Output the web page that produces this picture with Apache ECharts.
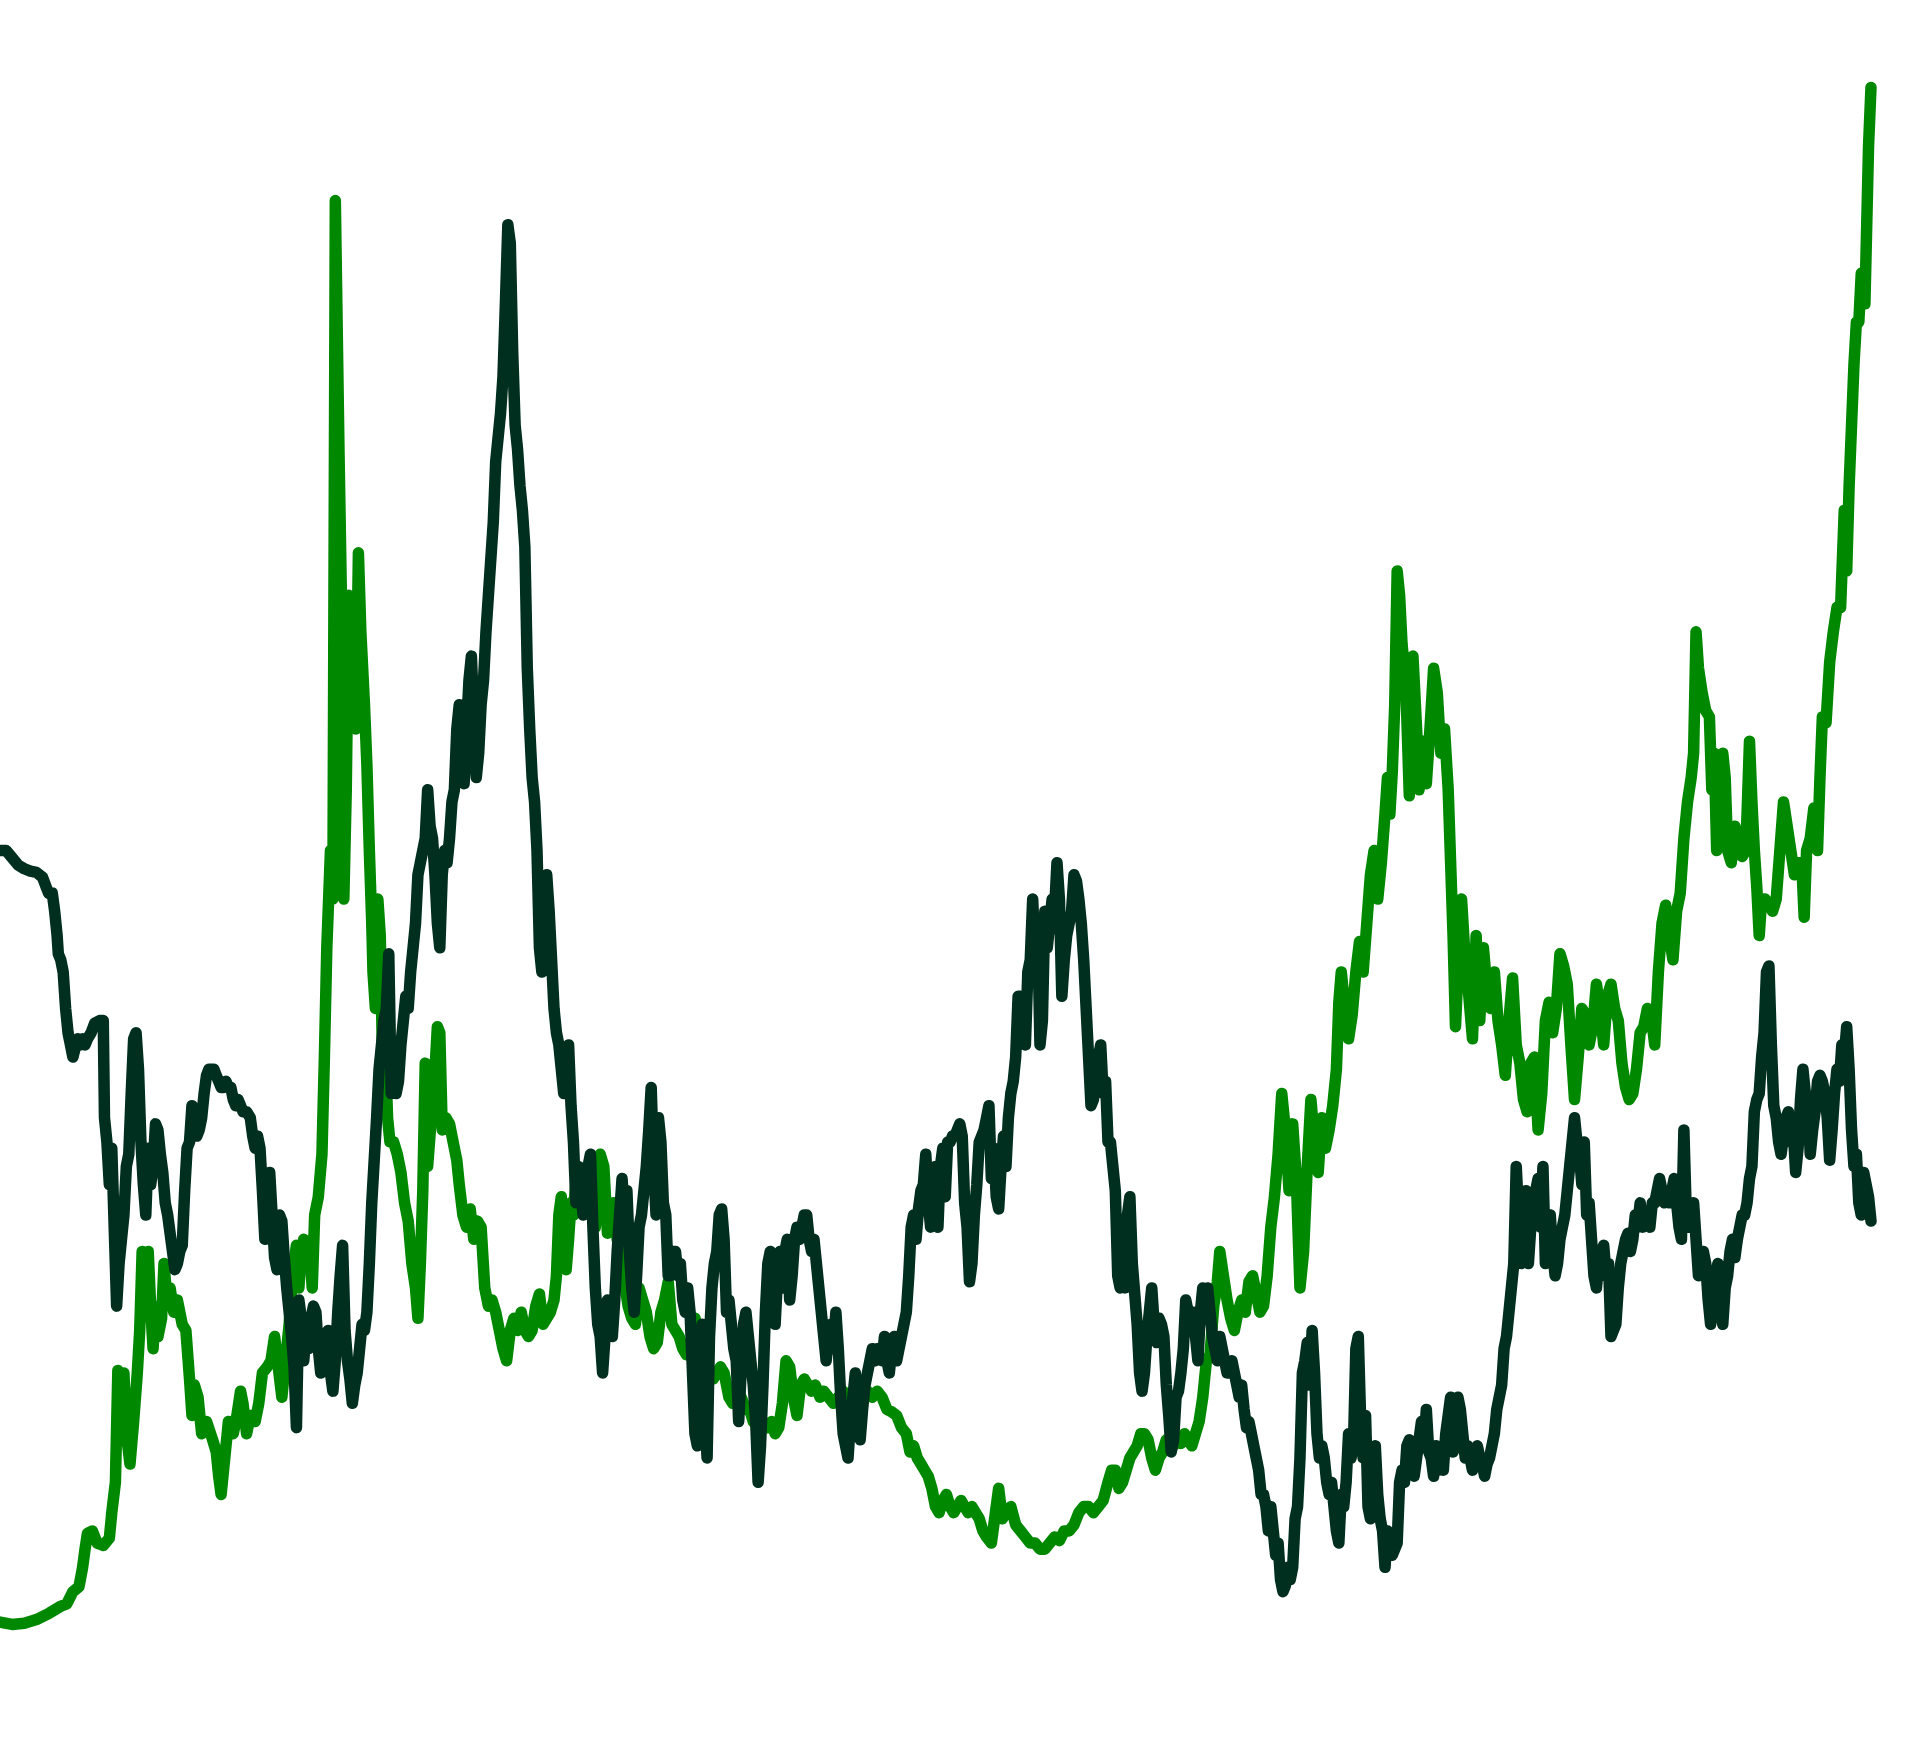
<!DOCTYPE html>
<html>
<head>
<meta charset="utf-8">
<script src="https://cdn.jsdelivr.net/npm/echarts@6/dist/echarts.min.js"></script>
<style>html,body{margin:0;padding:0;background:#fff}#c{width:1905px;height:1762px}</style>
</head>
<body>
<div id="c"></div>
<script>
// [period, value] pairs
const greenSeries = [[0,6.5],[10,6.3],[20,6.4],[30,6.7],[40,7.2],[50,7.8],[55,8.0],[60,9.0],[65,9.4],[68,11.0],[70,12.5],[72,13.8],[76,14.0],[80,13.0],[85,12.8],[90,13.4],[92,15.5],[95,18.0],[97,27.2],[99,26.5],[100,24.0],[102,27.0],[104,22.0],[107,19.5],[110,23.0],[113,27.0],[115,30.5],[117,37.0],[120,36.0],[122,37.0],[124,32.5],[126,29.0],[128,32.5],[130,30.0],[133,31.5],[135,36.0],[137,33.5],[140,34.0],[143,32.0],[146,33.0],[150,31.0],[153,30.5],[156,26.5],[158,23.5],[160,26.0],[163,25.0],[166,22.0],[170,23.0],[175,21.5],[178,20.5],[180,18.5],[182,17.0],[185,20.0],[188,23.0],[192,22.0],[195,23.5],[198,25.5],[200,24.5],[203,22.0],[206,23.5],[210,23.0],[213,24.5],[216,27.0],[220,27.5],[223,28.0],[226,30.0],[229,27.5],[232,25.0],[235,28.0],[238,31.0],[240,34.0],[242,36.0],[244,37.5],[246,34.0],[248,37.0],[250,38.0],[252,36.0],[255,37.0],[257,34.0],[259,40.0],[262,41.5],[265,45.0],[267,53.0],[269,62.0],[272,70.0],[274,66.0],[276,123.5],[277,123.5],[279,103.0],[281,91.0],[283,66.0],[285,75.0],[287,91.0],[289,84.0],[291,88.0],[293,80.0],[295,94.5],[297,88.0],[300,82.0],[302,77.0],[304,70.0],[306,64.0],[307,60.0],[309,57.0],[311,66.0],[313,63.0],[315,52.0],[317,54.0],[319,48.0],[321,46.0],[324,46.0],[327,45.0],[330,43.5],[333,41.0],[336,39.5],[339,36.0],[342,34.0],[344,31.5],[346,36.0],[348,42.0],[350,52.5],[352,44.0],[355,48.0],[357,50.0],[360,55.5],[362,55.0],[364,47.0],[367,48.0],[370,47.5],[373,46.0],[376,44.5],[378,42.5],[381,40.0],[384,39.0],[387,40.5],[390,38.0],[393,39.5],[396,39.0],[399,34.0],[402,32.5],[405,33.0],[408,32.0],[411,30.5],[414,29.0],[417,28.0],[420,30.5],[423,31.5],[426,30.5],[429,32.0],[432,30.5],[435,30.0],[438,30.5],[441,32.5],[444,33.5],[447,31.0],[450,31.5],[453,32.0],[456,33.0],[458,35.0],[460,40.0],[462,41.5],[464,36.0],[466,35.5],[468,38.0],[470,41.0],[472,40.0],[475,44.0],[478,41.5],[481,43.0],[484,44.0],[487,41.5],[490,39.0],[494,45.0],[497,44.0],[500,38.5],[502,40.0],[505,41.0],[508,38.0],[511,37.0],[514,34.5],[517,32.5],[520,31.5],[523,31.0],[526,34.0],[529,33.0],[532,32.0],[535,30.0],[538,29.0],[541,29.5],[544,32.0],[547,33.0],[550,34.5],[553,31.0],[556,30.5],[559,30.0],[562,29.0],[565,28.5],[568,29.0],[572,31.5],[575,30.5],[578,28.5],[580,28.0],[583,27.5],[587,26.5],[590,27.0],[593,27.5],[596,27.0],[600,25.0],[603,24.5],[606,25.0],[610,25.0],[614,24.0],[617,24.0],[620,23.0],[624,23.0],[628,22.5],[632,22.5],[635,23.0],[638,22.0],[641,22.5],[644,24.5],[647,28.0],[650,27.5],[653,25.0],[656,23.5],[659,26.0],[662,26.5],[665,26.0],[668,25.5],[671,26.0],[675,25.0],[678,25.5],[682,25.0],[686,24.5],[690,25.0],[694,25.5],[698,25.0],[702,24.5],[706,25.0],[710,25.0],[714,25.5],[718,25.0],[722,25.5],[726,25.0],[730,24.0],[734,23.8],[738,23.5],[742,22.5],[746,22.0],[749,20.5],[752,21.0],[755,20.0],[758,19.5],[761,19.0],[764,18.5],[767,17.5],[770,16.0],[773,15.5],[776,16.5],[779,17.0],[782,16.0],[785,15.5],[788,16.0],[791,16.5],[794,16.0],[797,15.5],[800,16.0],[803,15.5],[806,15.0],[809,14.0],[812,13.5],[816,13.0],[820,16.0],[822,17.5],[825,15.0],[828,15.5],[832,16.0],[836,14.5],[840,14.0],[844,13.5],[848,13.0],[852,13.0],[856,12.5],[860,12.5],[864,13.0],[868,13.5],[872,13.2],[876,14.0],[880,14.0],[884,14.5],[888,15.5],[892,16.0],[896,16.0],[900,15.5],[904,16.0],[908,16.5],[912,18.0],[915,19.0],[918,19.0],[921,17.5],[924,18.0],[927,19.0],[930,20.0],[933,20.5],[936,21.0],[939,22.0],[942,22.0],[945,21.5],[948,20.0],[951,19.0],[954,20.0],[957,20.5],[960,21.5],[963,21.0],[966,21.0],[969,21.5],[972,21.2],[975,22.0],[978,21.5],[981,21.0],[984,22.0],[987,23.0],[990,25.0],[993,28.0],[996,28.5],[999,32.5],[1002,34.5],[1004,37.0],[1007,35.0],[1010,33.0],[1013,31.5],[1016,30.5],[1019,32.0],[1022,33.0],[1025,32.0],[1028,34.5],[1031,35.0],[1034,33.5],[1037,32.0],[1040,32.5],[1043,35.0],[1046,39.0],[1049,41.5],[1052,45.0],[1055,50.0],[1058,47.0],[1061,42.0],[1064,47.5],[1067,43.0],[1070,34.0],[1073,37.0],[1076,44.0],[1079,49.5],[1082,46.0],[1085,43.5],[1088,48.0],[1091,45.5],[1094,47.0],[1097,49.0],[1100,52.0],[1102,57.5],[1104,60.0],[1107,57.0],[1110,54.5],[1113,56.5],[1116,60.0],[1119,62.5],[1122,60.0],[1125,64.0],[1128,68.0],[1131,70.0],[1134,66.0],[1137,69.0],[1140,73.0],[1142,76.0],[1144,73.0],[1146,76.5],[1148,82.0],[1150,93.0],[1152,91.0],[1154,87.0],[1157,84.0],[1160,74.5],[1163,86.0],[1166,80.0],[1168,75.0],[1171,79.0],[1174,75.5],[1177,80.0],[1180,85.0],[1183,83.0],[1186,78.0],[1189,80.0],[1192,75.0],[1194,69.0],[1196,63.0],[1198,55.5],[1200,60.0],[1203,66.0],[1206,61.0],[1209,58.0],[1212,54.5],[1215,63.0],[1218,56.0],[1221,62.0],[1224,58.5],[1227,57.0],[1230,60.0],[1233,56.0],[1236,54.0],[1239,51.5],[1242,56.0],[1245,59.5],[1248,54.0],[1251,52.5],[1254,49.5],[1257,48.5],[1260,52.5],[1263,53.0],[1266,47.0],[1269,50.0],[1272,56.0],[1275,57.5],[1278,55.0],[1281,57.0],[1284,61.5],[1287,60.5],[1290,59.0],[1293,54.0],[1296,49.5],[1299,53.0],[1302,57.0],[1305,56.5],[1308,54.0],[1311,55.5],[1314,59.0],[1317,57.0],[1320,54.0],[1323,58.0],[1326,59.0],[1329,57.0],[1332,56.0],[1335,52.5],[1338,50.5],[1341,49.5],[1344,50.0],[1347,52.0],[1350,55.0],[1353,55.5],[1356,57.0],[1359,56.5],[1362,54.0],[1365,60.0],[1368,64.0],[1371,65.5],[1374,63.0],[1377,61.0],[1380,65.0],[1383,66.5],[1386,71.0],[1389,74.0],[1392,76.0],[1394,78.0],[1396,88.0],[1398,85.0],[1401,83.0],[1404,81.5],[1407,81.0],[1409,75.0],[1411,78.0],[1413,70.0],[1416,73.0],[1418,78.0],[1420,76.0],[1422,70.0],[1425,69.0],[1428,72.0],[1431,71.0],[1434,69.5],[1437,70.0],[1440,79.0],[1442,74.0],[1444,70.0],[1446,67.0],[1448,63.0],[1450,66.0],[1453,66.0],[1456,65.5],[1459,65.0],[1462,66.0],[1465,70.0],[1468,74.0],[1471,72.0],[1474,70.0],[1477,68.0],[1480,69.0],[1483,69.0],[1485,64.5],[1487,70.0],[1490,71.0],[1493,73.5],[1496,70.0],[1498,76.0],[1500,81.0],[1503,80.5],[1506,85.5],[1509,88.0],[1512,90.0],[1515,90.0],[1518,98.0],[1520,93.0],[1522,100.0],[1524,105.0],[1526,110.0],[1528,113.5],[1530,113.5],[1532,117.5],[1535,115.0],[1538,128.0],[1540,132.8]];

const darkSeries = [[0,70],[5,70],[10,69.4],[15,68.8],[20,68.5],[25,68.3],[30,68.2],[35,67.8],[38,67],[40,66.5],[43,66.5],[45,65],[47,63],[48,61.5],[50,61],[52,60],[54,57],[56,55],[58,54],[60,53],[62,53.8],[64,54.5],[66,54],[68,54.5],[70,54],[72,54.5],[75,55],[78,55.8],[82,56],[85,56],[86,48],[88,46],[90,42.5],[92,45.5],[94,39],[96,32.5],[98,36],[100,38],[102,40],[104,44],[106,45],[108,50],[110,54.5],[112,55],[114,52],[116,46],[118,42.5],[120,40],[122,45.5],[124,42.5],[126,44],[128,47.5],[130,47],[132,45],[134,43.5],[136,41],[138,40],[140,38.5],[142,37],[144,35.5],[146,36],[148,37],[150,37.5],[152,42],[154,45.5],[156,46],[158,49],[160,46.5],[162,46.5],[164,47],[166,48],[168,50],[170,51.5],[172,52],[174,52],[176,52],[178,51.5],[180,51],[182,50.5],[184,50.5],[186,51],[188,50.5],[190,50.5],[192,49.5],[194,49],[196,49.5],[198,49],[200,48.5],[203,48.5],[206,48],[208,46.5],[210,45.5],[212,46.5],[214,45.5],[216,42],[218,38],[220,41],[222,43.5],[224,40],[226,36.5],[228,35.5],[230,40],[232,39.5],[234,36.5],[236,34],[238,32],[240,30],[242,27.5],[244,22.5],[246,33],[248,31.5],[250,28],[252,30.5],[254,29],[256,31.5],[258,32.5],[260,32],[262,29],[264,27],[266,28.5],[268,30],[270,30.5],[272,27],[274,25.5],[276,28],[278,32],[280,35],[282,37.5],[284,30.5],[286,28],[288,26.5],[290,24.5],[292,26],[294,27],[296,29],[298,31],[300,30.5],[302,32],[304,36],[306,41],[308,44.5],[310,48],[312,52],[314,54],[316,56],[318,57],[320,61.5],[322,50],[324,51],[326,50],[328,51],[330,54],[332,56],[334,58],[336,57],[338,60],[340,62],[342,64],[344,68],[346,69],[348,70],[350,71],[352,75],[354,72],[356,71],[358,68],[360,64],[362,62],[364,68],[366,70],[368,69],[370,71],[372,74],[374,75],[376,80],[378,82],[380,77],[382,75.5],[384,80],[386,84],[388,86],[390,81],[392,76],[394,78],[396,82],[398,84],[400,88],[402,91],[404,94],[406,97],[408,102],[410,104],[412,106],[414,109],[416,115],[418,121.5],[420,120],[422,111],[424,105],[426,103],[428,100],[430,98],[432,95],[434,85],[436,80],[438,76],[440,74],[442,70],[444,62],[446,60],[448,65],[450,68],[452,65],[454,61],[456,57],[458,55],[460,54],[462,52],[464,50],[466,52.5],[468,54],[470,49],[472,46],[474,41],[476,44],[478,42],[480,40],[482,41.5],[484,44],[486,45],[488,39],[490,34],[492,31],[494,30],[496,27],[498,30],[500,33],[502,31],[504,30],[506,33],[508,37],[510,40],[512,43],[514,40],[516,42],[518,37],[520,34],[522,32],[524,35],[526,39],[528,40],[530,42],[532,44],[534,47],[536,50.5],[538,44],[540,40],[542,48],[544,46],[546,41],[548,40],[550,35],[552,35],[554,37],[556,37],[558,35],[560,36],[562,33],[564,32],[566,34],[568,32],[570,27],[572,22],[574,21],[576,26],[578,31],[580,24],[582,20],[584,30],[586,34],[588,36],[590,37],[592,40],[594,40.5],[596,38],[598,32],[600,33],[602,31],[604,29],[606,28],[608,23],[610,27],[612,31],[614,32],[616,30],[618,28],[620,26],[622,23],[624,18],[626,21],[628,26],[630,32],[632,36],[634,37],[636,34],[638,31],[640,35],[642,37],[644,34],[646,37],[648,38],[650,33],[652,35],[654,38],[656,39],[658,38],[660,39],[662,40],[664,40],[666,38],[668,37],[670,38],[672,36],[674,34],[676,32],[678,30],[680,28],[682,30],[684,31],[686,29],[688,32],[690,29],[692,25],[694,22],[696,21],[698,20],[700,23],[702,25],[704,27],[706,24],[708,21.5],[710,24],[712,26],[714,27],[716,28],[718,29],[720,28],[722,29],[724,28.5],[726,28],[728,30],[730,28],[732,27],[734,29],[736,30],[738,28],[740,29],[742,30],[744,31],[746,32],[748,35],[750,39],[752,40],[754,38],[756,40.5],[758,42],[760,42.5],[762,45],[764,41],[766,39],[768,42],[770,44],[772,39],[774,44],[776,45.5],[778,41.5],[780,46],[782,46],[784,46.5],[786,46.5],[788,47],[790,47.5],[792,46.5],[794,41],[796,39],[798,34.5],[800,36],[802,40],[804,42.5],[806,46],[808,46.5],[810,47],[812,48],[814,49],[816,43],[818,45.5],[820,41.5],[822,40.5],[824,44],[826,46.5],[828,44],[830,48],[832,50],[834,51],[836,53],[838,58],[840,58],[842,55],[844,54],[846,60],[848,61],[850,66],[852,61],[854,64],[856,54],[858,56],[860,65],[862,62],[864,64],[866,66],[868,65],[870,69],[872,66],[874,58],[876,61],[878,63],[880,64],[882,65],[884,68],[886,67.5],[888,66],[890,64],[892,61],[894,57],[896,53],[898,49],[900,49.5],[902,51],[904,53],[906,54],[908,50],[910,51],[912,46],[914,46],[916,44],[918,42],[920,35],[922,34],[924,36],[926,34],[928,40],[930,41.5],[932,36],[934,33.5],[936,31],[938,27],[940,25.5],[942,27],[944,30],[946,32],[948,34],[950,31],[952,29.5],[954,31.5],[956,31],[958,30],[960,26],[962,23.5],[964,20.5],[966,21.5],[968,25],[970,25.5],[972,27],[974,29],[976,33],[978,32],[980,31],[982,32],[984,30],[986,28],[988,32],[990,34],[992,33],[994,34],[996,32],[998,30],[1000,29],[1002,28],[1004,30],[1006,29],[1008,28],[1010,27],[1012,27],[1014,28],[1016,27],[1018,26],[1020,25],[1022,26],[1024,24],[1026,22.5],[1028,23],[1030,22],[1032,21],[1034,20],[1036,19],[1038,17],[1040,17],[1042,16],[1044,14],[1046,16],[1048,14],[1050,12],[1052,13],[1054,10],[1056,9],[1058,9.5],[1060,11],[1062,10],[1064,11],[1066,15],[1068,16],[1070,20],[1072,27],[1074,28],[1076,29.5],[1078,26],[1080,30.5],[1082,27],[1084,22],[1086,20],[1088,21],[1090,20],[1092,18],[1094,17],[1096,18],[1098,16],[1100,14],[1102,13],[1104,17],[1106,16],[1108,18],[1110,22],[1112,20],[1114,21],[1116,29],[1118,30],[1120,23],[1122,20],[1124,23.5],[1126,16],[1128,15],[1130,20],[1132,21],[1134,17],[1136,15],[1138,14],[1140,11],[1142,14],[1144,13.5],[1146,12],[1148,12.5],[1150,13],[1152,18],[1154,19],[1156,18],[1158,21],[1160,21.5],[1162,19],[1164,18.5],[1166,20],[1168,21.5],[1170,23],[1172,21],[1174,24],[1176,20.5],[1178,20],[1180,18.5],[1182,21],[1184,19],[1186,20],[1188,19],[1190,22],[1192,23.5],[1194,25],[1196,20.5],[1198,21],[1200,25],[1202,24],[1204,22],[1206,20],[1208,21],[1210,20],[1212,19],[1214,20.5],[1216,21],[1218,20],[1220,19.5],[1222,18.5],[1224,19.5],[1226,20],[1228,21],[1230,22],[1232,24],[1234,25],[1236,26],[1238,29],[1240,30],[1242,32],[1244,34],[1246,36],[1248,44],[1250,40],[1252,36],[1254,40],[1256,42],[1258,36],[1260,39],[1262,40],[1264,42],[1266,43],[1268,39],[1270,44],[1272,36],[1274,39],[1276,40],[1278,37],[1280,35],[1282,36],[1284,38],[1286,39],[1288,40],[1290,42],[1292,44],[1294,46],[1296,48],[1298,46],[1300,45],[1302,42.5],[1304,46],[1306,40],[1308,41],[1310,38],[1312,35],[1314,34],[1316,36],[1318,37],[1320,37.5],[1322,35],[1324,36],[1326,30],[1328,30.5],[1330,31],[1332,34],[1334,36],[1336,37],[1338,38],[1340,38.5],[1342,37],[1344,38],[1346,40],[1348,39],[1350,41],[1352,39],[1354,40],[1356,40],[1358,39],[1360,41],[1362,41],[1364,42],[1366,43],[1368,42],[1370,41],[1372,41.5],[1374,41],[1376,42],[1378,43],[1380,41],[1382,39],[1384,38],[1386,47],[1388,40],[1390,39],[1392,40],[1394,41],[1396,38],[1398,35],[1400,35.5],[1402,37],[1404,36],[1406,33],[1408,31],[1410,34],[1412,35],[1414,36],[1416,32],[1418,31],[1420,34],[1422,35],[1424,37],[1426,38],[1428,36.5],[1430,38],[1432,39],[1434,40],[1436,40],[1438,41],[1440,43],[1442,44],[1444,48.5],[1446,49.5],[1448,50],[1450,53],[1452,55],[1454,60],[1456,60.5],[1458,54],[1460,49],[1462,48],[1464,46],[1466,45],[1468,46.5],[1470,48],[1472,48.5],[1474,46],[1476,47],[1478,43.5],[1480,45.5],[1482,49.5],[1484,52],[1486,50],[1488,49.5],[1490,45],[1492,47],[1494,48.5],[1496,51],[1498,51.5],[1500,51],[1502,50],[1504,48],[1506,44.5],[1508,47],[1510,50],[1512,52],[1514,51],[1516,54],[1518,53],[1520,55.5],[1522,52],[1524,47],[1526,44],[1528,45],[1530,41],[1532,40],[1534,43.5],[1536,42.5],[1538,41.5],[1540,39.5]];

const periodRange = [0, 1568];
const valueRange = [0, 140];

const chart = echarts.init(document.getElementById('c'), null, {renderer: 'canvas'});
chart.setOption({
  animation: false,
  backgroundColor: '#ffffff',
  grid: {left: 0, right: 0, top: 0, bottom: 61, containLabel: false},
  xAxis: {type: 'value', min: periodRange[0], max: periodRange[1], show: false},
  yAxis: {type: 'value', min: valueRange[0], max: valueRange[1], show: false},
  series: [
    {type: 'line', data: greenSeries, showSymbol: false, z: 2,
     lineStyle: {color: '#008800', width: 11.5, cap: 'round', join: 'round'}},
    {type: 'line', data: darkSeries, showSymbol: false, z: 3,
     lineStyle: {color: '#002f1f', width: 11.5, cap: 'round', join: 'round'}}
  ]
});
</script>
</body>
</html>
